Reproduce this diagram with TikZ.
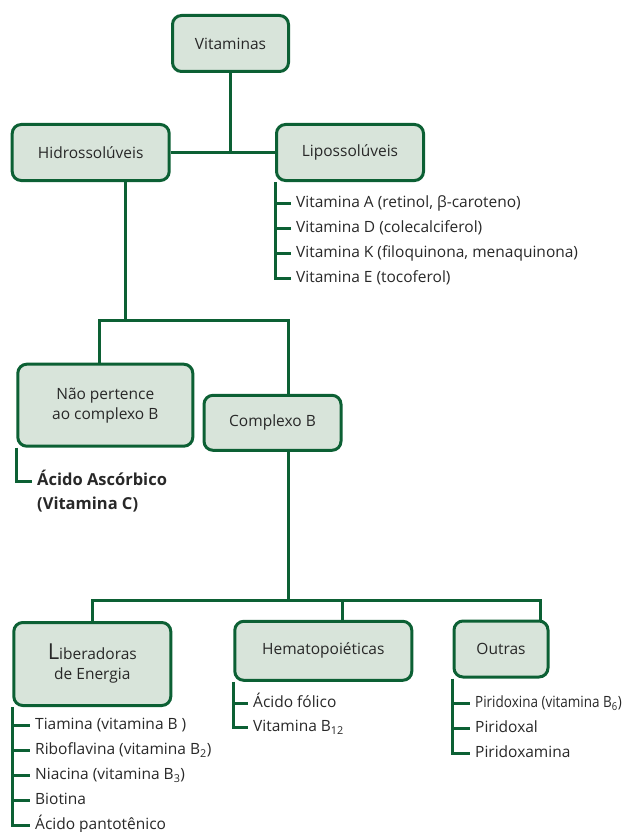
\documentclass[tikz,border=0pt]{standalone}
\usepackage{fontspec}
\setmainfont{Open Sans}
\usepackage{tikz}
\usetikzlibrary{calc}

\definecolor{verde}{RGB}{12,96,52}
\definecolor{verdeclaro}{RGB}{216,228,218}
\definecolor{texto}{RGB}{40,40,40}

\tikzset{
  caixa/.style={draw=verde,fill=verdeclaro,line width=3pt,rounded corners=9pt,
    align=center,text=texto,inner sep=0pt,font=\fontsize{15.5}{20}\selectfont},
  item/.style={anchor=west,inner xsep=5pt,inner ysep=0pt,text height=9pt,text depth=0pt,
    text=texto,font=\fontsize{15.5}{18}\selectfont},
  liga/.style={draw=verde,line width=3pt}
}

\begin{document}
\begin{tikzpicture}[x=1pt,y=-1pt]
\useasboundingbox (0,0) rectangle (632,832);

% caixas
\node[caixa,minimum width=116pt,minimum height=56pt] (vit) at (230.5,43.5) {Vitaminas};
\node[caixa,minimum width=157pt,minimum height=56pt] (hidro) at (90.7,152.5) {Hidrossolúveis};
\node[caixa,minimum width=147pt,minimum height=56pt] (lipo) at (350,152.5) {Lipossolúveis};
\node[caixa,minimum width=175pt,minimum height=82pt] (naop) at (105.3,405.2) {Não pertence\\ao complexo B};
\node[caixa,minimum width=137pt,minimum height=55pt] (compB) at (272.5,422.8) {Complexo B};
\node[caixa,minimum width=157pt,minimum height=83pt] (liber) at (92.3,664) {{\fontsize{22}{22}\selectfont L}iberadoras\\de Energia};
\node[caixa,minimum width=177pt,minimum height=59pt] (hemato) at (323.3,650.8) {Hematopoiéticas};
\node[caixa,minimum width=94pt,minimum height=56pt] (outras) at (501,649) {Outras};

% ligacoes principais
\draw[liga] (hidro.east) -- (lipo.west);
\draw[liga] (vit) -- (vit |- hidro.east);

\coordinate (nodoH) at (125,320);
\coordinate (ramoN) at (99,320);
\coordinate (ramoC) at (288,320);
\draw[liga] (nodoH |- hidro.south) -- (nodoH);
\draw[liga] (naop.north -| ramoN) -- (ramoN) -- (ramoC) -- (compB.north -| ramoC);

\coordinate (nodoC) at (288,600);
\coordinate (ramoL) at (92,600);
\coordinate (ramoH) at (342,600);
\coordinate (ramoO) at (540,600);
\draw[liga] (compB.south -| nodoC) -- (nodoC);
\draw[liga] (liber.north -| ramoL) -- (ramoL) -- (ramoO) -- (outras.north -| ramoO);
\draw[liga] (ramoH) -- (hemato.north -| ramoH);

% lipossoluveis
\node[item] (vitA) at (291,203) {Vitamina A (retinol, β-caroteno)};
\node[item] (vitD) at (291,228) {Vitamina D (colecalciferol)};
\node[item] (vitK) at (291,253) {Vitamina K (filoquinona, menaquinona)};
\node[item] (vitE) at (291,278) {Vitamina E (tocoferol)};
\draw[liga] (lipo.south west) -- (lipo.south west |- vitE) -- (vitE.west);
\draw[liga] (lipo.south west |- vitA) -- (vitA.west);
\draw[liga] (lipo.south west |- vitD) -- (vitD.west);
\draw[liga] (lipo.south west |- vitK) -- (vitK.west);

% acido ascorbico
\node[item,font=\fontsize{16.5}{18}\selectfont\bfseries] (acido) at (32,481) {Ácido Ascórbico};
\node[item,font=\fontsize{16.5}{18}\selectfont\bfseries] (vitC) at (32,505) {(Vitamina C)};
\draw[liga] (naop.south west) -- (naop.south west |- acido) -- (acido.west);

% liberadoras de energia
\node[item] (tiam) at (30,725) {Tiamina (vitamina B\hspace{4pt})};
\node[item] (ribo) at (30,750) {Riboflavina (vitamina B\textsubscript{2})};
\node[item] (niac) at (30,775) {Niacina (vitamina B\textsubscript{3})};
\node[item] (biot) at (30,800) {Biotina};
\node[item] (pant) at (30,825) {Ácido pantotênico};
\draw[liga] (liber.south west) -- (liber.south west |- pant) -- (pant.west);
\draw[liga] (liber.south west |- tiam) -- (tiam.west);
\draw[liga] (liber.south west |- ribo) -- (ribo.west);
\draw[liga] (liber.south west |- niac) -- (niac.west);
\draw[liga] (liber.south west |- biot) -- (biot.west);

% hematopoieticas
\node[item] (folico) at (248,703) {Ácido fólico};
\node[item] (vitB12) at (248,727) {Vitamina B\textsubscript{12}};
\draw[liga] (hemato.south west) -- (hemato.south west |- vitB12) -- (vitB12.west);
\draw[liga] (hemato.south west |- folico) -- (folico.west);

% outras
\node[item,font=\fontsize{15.5}{18}\selectfont\addfontfeature{FakeStretch=0.87}] (pirina) at (470,703) {Piridoxina (vitamina B\textsubscript{6})};
\node[item] (pirxal) at (470,728) {Piridoxal};
\node[item] (pirmin) at (470,753) {Piridoxamina};
\draw[liga] (outras.south west) -- (outras.south west |- pirmin) -- (pirmin.west);
\draw[liga] (outras.south west |- pirina) -- (pirina.west);
\draw[liga] (outras.south west |- pirxal) -- (pirxal.west);

\end{tikzpicture}
\end{document}
